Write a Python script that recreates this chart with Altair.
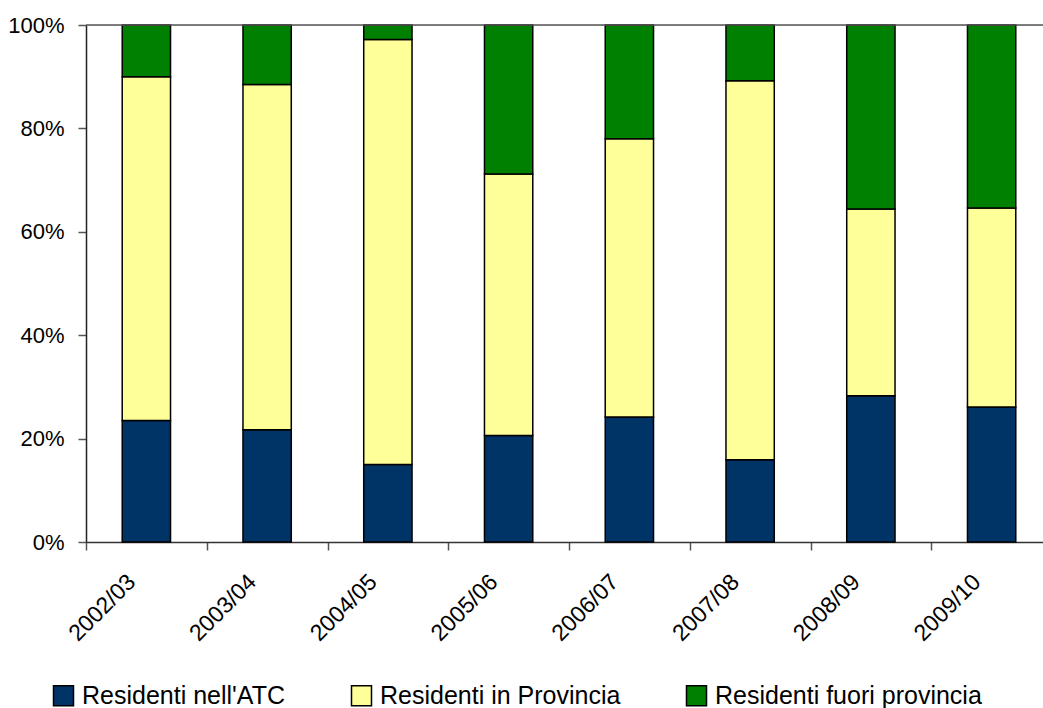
import altair as alt
import pandas as pd

seasons = ["2002/03", "2003/04", "2004/05", "2005/06", "2006/07", "2007/08", "2008/09", "2009/10"]
series = ["Residenti nell'ATC", "Residenti in Provincia", "Residenti fuori provincia"]
atc = [23.5, 21.7, 15.0, 20.6, 24.2, 15.9, 28.3, 26.1]
provincia = [66.5, 66.8, 82.2, 50.6, 53.8, 73.3, 36.1, 38.5]
fuori = [10.0, 11.5, 2.8, 28.8, 22.0, 10.8, 35.6, 35.4]
colors = ["#003366", "#FFFF99", "#008000"]
y_ticks = [0, 20, 40, 60, 80, 100]

rows = []
for i, s in enumerate(seasons):
    for k, vals in enumerate([atc, provincia, fuori]):
        rows.append({"season": s, "serie": series[k], "ord": k, "value": vals[i]})
df = pd.DataFrame(rows)

FONT = "Liberation Sans"

x = alt.X(
    "season:N", sort=seasons, title=None,
    scale=alt.Scale(range=[0, 966], paddingInner=0, paddingOuter=0),
    axis=alt.Axis(labelAngle=315, labelAlign="right", labelBaseline="middle",
                  labelFontSize=23, labelFont=FONT, labelColor="#000",
                  tickBand="extent", tickSize=8, tickColor="#555", tickWidth=1.5,
                  domainColor="#333", domainWidth=1.5, labelPadding=28, labelOffset=-15),
)
y = alt.Y(
    "value:Q", stack="zero", title=None,
    scale=alt.Scale(domain=[0, 100], nice=False),
    axis=alt.Axis(values=y_ticks, labelExpr="datum.value + '%'", grid=False,
                  labelFontSize=22, labelFont=FONT, labelColor="#000",
                  tickSize=8, tickColor="#555", tickWidth=1.5,
                  domainColor="#222", domainWidth=1.5, labelPadding=14),
)

bars = alt.Chart(df).mark_bar(stroke="black", strokeWidth=1.5, width=48.3).encode(
    x=x,
    y=y,
    color=alt.Color(
        "serie:N",
        scale=alt.Scale(domain=series, range=colors),
        legend=alt.Legend(
            title=None, orient="none", direction="horizontal",
            legendX=-35, legendY=658,
            symbolType="square", symbolSize=400,
            symbolStrokeColor="black", symbolStrokeWidth=1.5,
            labelFont=FONT, labelFontSize=25, labelColor="#000",
            labelLimit=500, labelOffset=6, columnPadding=62,
        ),
    ),
    order=alt.Order("ord:Q"),
)

top = alt.Chart(pd.DataFrame({"v": [100]})).mark_rule(color="#555", strokeWidth=1.5).encode(
    y=alt.datum(100)
)

chart = alt.layer(bars, top).properties(
    width=957, height=517,
    autosize=alt.AutoSizeParams(type="none"),
    padding={"left": 86, "top": 25, "right": 0, "bottom": 166},
).configure_view(stroke=None).configure(background="white")

chart.save("out.html", embed_options={"renderer": "svg", "actions": False})
